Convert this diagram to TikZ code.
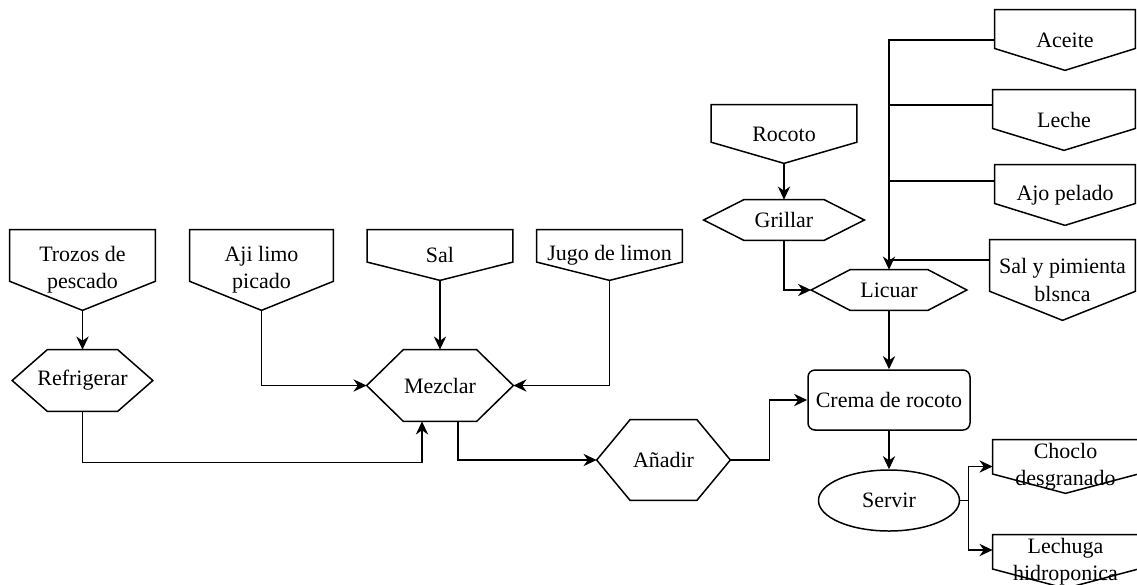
\documentclass[tikz,border=0pt]{standalone}
\usepackage{fontspec}
\setmainfont{Liberation Serif}
\usetikzlibrary{calc,arrows.meta,shapes.geometric}

\tikzset{
  box/.style={rectangle, inner sep=0pt, align=center, font=\fontsize{12.5}{15.4}\selectfont},
  line/.style={line width=0.85pt},
  flow/.style={line width=0.85pt, -{Stealth[length=7.5pt,width=7pt]}}
}

\begin{document}
\begin{tikzpicture}
  % Picture frame
  \useasboundingbox (0,0) rectangle (22.74,-11.68);

  % Inputs (off-page shapes)
  \node[box, minimum width=2.9cm, minimum height=1.6cm] (trozos) at (1.65,-5.4) {Trozos de\\pescado};
  \node[box, minimum width=2.86cm, minimum height=1.6cm] (aji) at (5.23,-5.4) {Aji limo\\picado};
  \node[box, minimum width=2.9cm, minimum height=1cm] (sal) at (8.8,-5.1) {Sal};
  \node[box, minimum width=2.9cm, minimum height=1cm] (jugo) at (12.19,-5.1) {Jugo de limon};
  \node[box, minimum width=2.9cm, minimum height=1.16cm] (rocoto) at (15.68,-2.68) {Rocoto};
  \node[box, minimum width=2.8cm, minimum height=1.2cm] (aceite) at (21.3,-0.8) {Aceite};
  \node[box, minimum width=2.84cm, minimum height=1.2cm] (leche) at (21.28,-2.4) {Leche};
  \node[box, minimum width=2.8cm, minimum height=1.2cm] (ajo) at (21.3,-3.9) {Ajo pelado};
  \node[box, minimum width=2.9cm, minimum height=1.6cm] (salp) at (21.25,-5.6) {Sal y pimienta\\blsnca};
  \node[box, minimum width=2.9cm, minimum height=1.06cm] (choclo) at (21.31,-9.33) {Choclo\\desgranado};
  \node[box, minimum width=2.9cm, minimum height=1.06cm] (lechuga) at (21.31,-11.23) {Lechuga\\hidroponica};

  % Process steps (hexagons)
  \node[box, minimum width=2.8cm, minimum height=1.22cm] (refrigerar) at (1.65,-7.61) {Refrigerar};
  \node[box, minimum width=2.92cm, minimum height=1.42cm] (mezclar) at (8.8,-7.71) {Mezclar};
  \node[box, minimum width=2.66cm, minimum height=1.6cm] (anadir) at (13.27,-9.2) {Añadir};
  \node[box, minimum width=3.2cm, minimum height=0.8cm] (grillar) at (15.68,-4.4) {Grillar};
  \node[box, minimum width=3.1cm, minimum height=0.8cm] (licuar) at (17.78,-5.8) {Licuar};

  % Product and serving
  \node[box, draw, line, rounded corners=0.14cm, minimum width=3.24cm, minimum height=1.2cm] (crema) at (17.78,-8) {Crema de rocoto};
  \node[box, ellipse, draw, line, minimum width=2.82cm, minimum height=1.22cm] (servir) at (17.78,-10.01) {Servir};

  % Outline of the off-page shapes
  \foreach \n in {trozos,aji,sal,jugo,rocoto,aceite,leche,ajo,salp,choclo,lechuga}
    \draw[line] (\n.north west) -- (\n.north east) -- ($(\n.south east)!0.36!(\n.north east)$)
      -- (\n.south) -- ($(\n.south west)!0.36!(\n.north west)$) -- cycle;

  % Outline of the hexagons
  \foreach \n in {refrigerar,mezclar,anadir,grillar,licuar}
    \draw[line] (\n.west) -- ($(\n.north west)!0.25!(\n.north east)$) -- ($(\n.north east)!0.25!(\n.north west)$)
      -- (\n.east) -- ($(\n.south east)!0.25!(\n.south west)$) -- ($(\n.south west)!0.25!(\n.south east)$) -- cycle;

  % Left branch into Mezclar
  \draw[flow] (trozos.south) -- (refrigerar.north);
  \draw[flow] (aji.south) |- (mezclar.west);
  \draw[flow] (sal.south) -- (mezclar.north);
  \draw[flow] (jugo.south) |- (mezclar.east);
  \draw[flow] (refrigerar.south) -- ++(0,-1.02) -| ([xshift=-0.36cm]mezclar.south);
  \draw[flow] ([xshift=0.36cm]mezclar.south) |- (anadir.west);
  \draw[flow] (anadir.east) -- ++(0.78,0) |- (crema.west);

  % Rocoto branch into Licuar
  \draw[flow] (rocoto.south) -- (grillar.north);
  \draw[flow] (grillar.south) |- (licuar.west);
  \draw[flow] (aceite.west) -| (licuar.north);
  \draw[line] ([yshift=0.3cm]leche.west) -- ([yshift=0.3cm]leche.west -| licuar.north);
  \draw[line] ([yshift=0.28cm]ajo.west) -- ([yshift=0.28cm]ajo.west -| licuar.north);
  \draw[line] ([yshift=0.4cm]salp.west) -- ([yshift=0.4cm]salp.west -| licuar.north);

  % Final steps
  \draw[flow] (licuar.south) -- (crema.north);
  \draw[flow] (crema.south) -- (servir.north);
  \draw[flow] (servir.east) -- ++(0.16,0) |- (choclo.west);
  \draw[flow] (servir.east) -- ++(0.16,0) |- ([yshift=0.23cm]lechuga.west);

\end{tikzpicture}
\end{document}
